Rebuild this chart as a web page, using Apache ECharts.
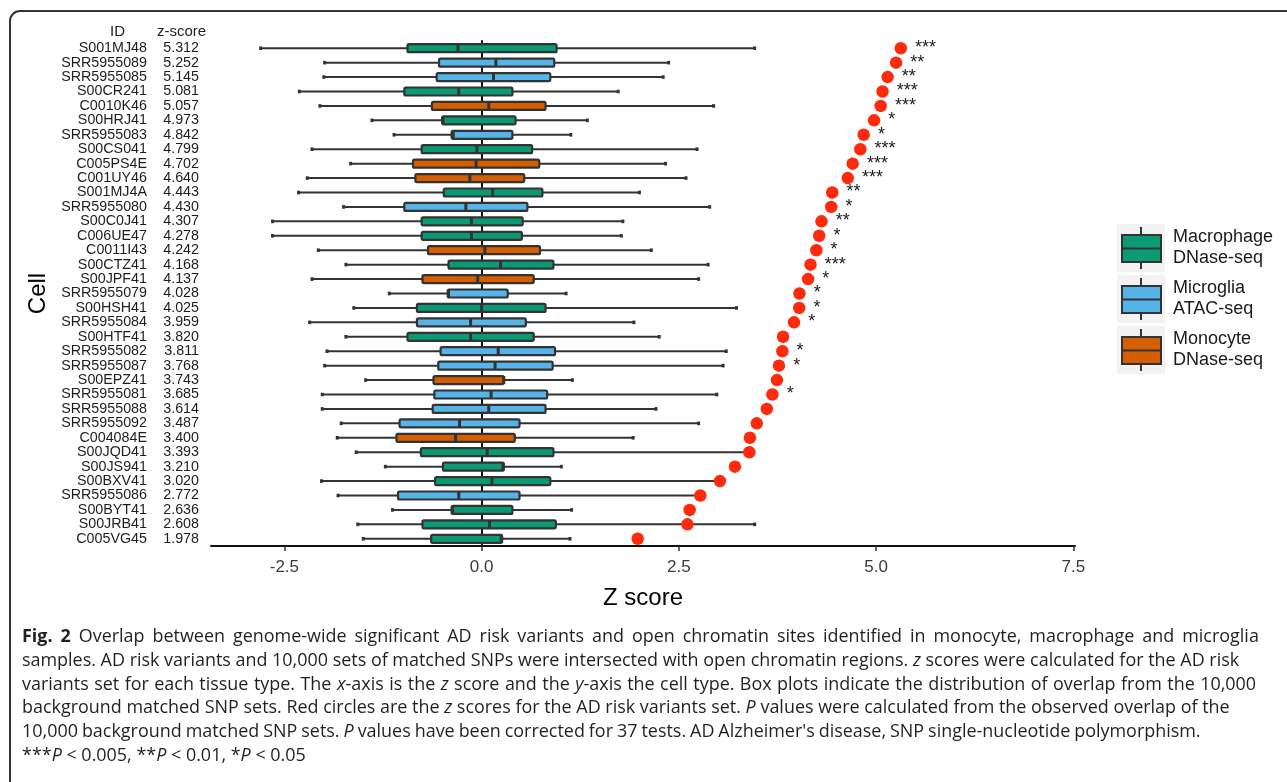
<!DOCTYPE html>
<html>
<head>
<meta charset="utf-8">
<script src="https://cdn.jsdelivr.net/npm/echarts@6/dist/echarts.min.js"></script>
<style>
  html, body { margin: 0; padding: 0; background: #ffffff; overflow: hidden; }
  #wrap { position: relative; width: 1287px; height: 782px; overflow: hidden; }
  #frame { position: absolute; left: 9px; top: 10px; width: 1400px; height: 900px;
           border: 2px solid #333333; border-radius: 11px; box-sizing: border-box; }
  #chart { position: absolute; left: 0; top: 0; width: 1287px; height: 782px; }
  #caption { position: absolute; left: 22px; top: 624px; font-family: "Open Sans", "Noto Sans", sans-serif;
             font-size: 17.95px; line-height: 23.8px; color: #231f20; white-space: nowrap; }
  #caption div { height: 23.8px; }
  #caption b { font-weight: 700; }
</style>
</head>
<body>
<div id="wrap">
  <div id="frame"></div>
  <div id="chart"></div>
  <div id="caption">
    <div style="word-spacing:3.3px"><b>Fig. 2</b> Overlap between genome-wide significant AD risk variants and open chromatin sites identified in monocyte, macrophage and microglia</div>
    <div>samples. AD risk variants and 10,000 sets of matched SNPs were intersected with open chromatin regions. <i>z</i> scores were calculated for the AD risk</div>
    <div style="word-spacing:0.8px">variants set for each tissue type. The <i>x</i>-axis is the <i>z</i> score and the <i>y</i>-axis the cell type. Box plots indicate the distribution of overlap from the 10,000</div>
    <div>background matched SNP sets. Red circles are the <i>z</i> scores for the AD risk variants set. <i>P</i> values were calculated from the observed overlap of the</div>
    <div style="word-spacing:-0.7px">10,000 background matched SNP sets. <i>P</i> values have been corrected for 37 tests. AD Alzheimer's disease, SNP single-nucleotide polymorphism.</div>
    <div>***<i>P</i> &lt; 0.005, **<i>P</i> &lt; 0.01, *<i>P</i> &lt; 0.05</div>
  </div>
</div>
<script>
const ids = ["S001MJ48","SRR5955089","SRR5955085","S00CR241","C0010K46","S00HRJ41","SRR5955083","S00CS041","C005PS4E","C001UY46","S001MJ4A","SRR5955080","S00C0J41","C006UE47","C0011I43","S00CTZ41","S00JPF41","SRR5955079","S00HSH41","SRR5955084","S00HTF41","SRR5955082","SRR5955087","S00EPZ41","SRR5955081","SRR5955088","SRR5955092","C004084E","S00JQD41","S00JS941","S00BXV41","SRR5955086","S00BYT41","S00JRB41","C005VG45"];
const zScores = [5.312,5.252,5.145,5.081,5.057,4.973,4.842,4.799,4.702,4.640,4.443,4.430,4.307,4.278,4.242,4.168,4.137,4.028,4.025,3.959,3.820,3.811,3.768,3.743,3.685,3.614,3.487,3.400,3.393,3.210,3.020,2.772,2.636,2.608,1.978];
const whiskerLow = [-2.80,-1.99,-2.00,-2.31,-2.05,-1.39,-1.11,-2.15,-1.66,-2.21,-2.32,-1.75,-2.65,-2.65,-2.07,-1.72,-2.15,-1.17,-1.62,-2.18,-1.72,-1.96,-1.99,-1.47,-2.02,-2.02,-1.78,-1.83,-1.59,-1.22,-2.03,-1.82,-1.13,-1.57,-1.50];
const boxLow = [-0.94,-0.54,-0.57,-0.98,-0.63,-0.50,-0.38,-0.76,-0.87,-0.84,-0.48,-0.98,-0.76,-0.76,-0.68,-0.42,-0.75,-0.43,-0.82,-0.82,-0.94,-0.52,-0.55,-0.61,-0.60,-0.62,-1.04,-1.08,-0.77,-0.49,-0.59,-1.06,-0.38,-0.75,-0.64];
const medians = [-0.30,0.18,0.15,-0.29,0.09,-0.49,-0.36,-0.06,-0.07,-0.15,0.14,-0.20,-0.13,-0.13,0.04,0.24,-0.05,-0.42,0.00,-0.14,-0.14,0.21,0.17,0.28,0.12,0.09,-0.28,-0.33,0.07,0.27,0.13,-0.29,-0.37,0.10,0.25];
const boxHigh = [0.95,0.92,0.87,0.39,0.81,0.43,0.39,0.64,0.73,0.54,0.77,0.58,0.52,0.51,0.74,0.91,0.66,0.33,0.81,0.56,0.66,0.93,0.90,0.28,0.83,0.81,0.48,0.42,0.91,0.28,0.87,0.48,0.39,0.94,0.26];
const whiskerHigh = [3.46,2.37,2.30,1.73,2.94,1.34,1.13,2.73,2.33,2.59,2.00,2.89,1.79,1.77,2.15,2.87,2.75,1.07,3.23,1.93,2.25,3.10,3.06,1.15,2.98,2.21,2.75,1.92,3.40,1.01,3.01,2.78,1.14,3.46,1.12];
const cellTypes = ["Mac","Mic","Mic","Mac","Mon","Mac","Mic","Mac","Mon","Mon","Mac","Mic","Mac","Mac","Mon","Mac","Mon","Mic","Mac","Mic","Mac","Mic","Mic","Mon","Mic","Mic","Mic","Mon","Mac","Mac","Mac","Mic","Mac","Mac","Mac"];
const stars = ["***","**","**","***","***","*","*","***","***","***","**","*","**","*","*","***","*","*","*","*","","*","*","","*","","","","","","","","","",""];
const typeKeys = ["Mac","Mic","Mon"];
const typeNames = ["Macrophage\nDNase-seq","Microglia\nATAC-seq","Monocyte\nDNase-seq"];
const typeColors = ["#0a9b74","#56b4e9","#d55e00"];
const xTicks = [-2.5, 0, 2.5, 5, 7.5];

const boxData = ids.map((id, i) => [i, whiskerLow[i], boxLow[i], medians[i], boxHigh[i], whiskerHigh[i], typeKeys.indexOf(cellTypes[i])]);
const dotData = ids.map((id, i) => [zScores[i], i]);

const chart = echarts.init(document.getElementById('chart'), null, { renderer: 'canvas' });
const LINE = '#333333';
const FONT = '"Liberation Sans", Arial, sans-serif';

const legendGraphics = [];
typeNames.forEach((name, i) => {
  const top = 224 + i * 51;
  legendGraphics.push({
    type: 'group', left: 1117, top: top,
    children: [
      { type: 'rect', shape: { x: 0, y: 0, width: 48, height: 48 }, style: { fill: '#f2f2f2' } },
      { type: 'line', shape: { x1: 24, y1: 3, x2: 24, y2: 45 }, style: { stroke: LINE, lineWidth: 2 } },
      { type: 'rect', shape: { x: 5, y: 11, width: 39, height: 27 }, style: { fill: typeColors[i], stroke: LINE, lineWidth: 2 } },
      { type: 'line', shape: { x1: 5, y1: 24.5, x2: 44, y2: 24.5 }, style: { stroke: LINE, lineWidth: 2.2 } },
      { type: 'text', x: 56, y: 24, style: { text: name, font: '18px ' + FONT, fill: '#1a1a1a', lineHeight: 21, verticalAlign: 'middle', textVerticalAlign: 'middle' } }
    ]
  });
});

const option = {
  backgroundColor: 'transparent',
  animation: false,
  textStyle: { fontFamily: FONT },
  grid: { left: 211, right: 212, top: 41, bottom: 236, containLabel: false },
  xAxis: {
    type: 'value', min: -3.43, max: 7.52,
    name: 'Z score', nameLocation: 'middle', nameGap: 40,
    nameTextStyle: { fontSize: 24, color: '#000', fontFamily: FONT },
    axisLine: { show: true, lineStyle: { color: '#111', width: 2 } },
    axisTick: { show: true, length: 5, lineStyle: { color: '#333', width: 1.5 }, customValues: xTicks },
    axisLabel: { fontSize: 17, color: '#3a3a3a', margin: 13, customValues: xTicks,
                 formatter: v => v.toFixed(1) },
    splitLine: { show: false }
  },
  yAxis: {
    type: 'category', data: ids, inverse: true,
    name: 'Cell', nameLocation: 'middle', nameGap: 160, nameRotate: 90,
    nameTextStyle: { fontSize: 24, color: '#000', fontFamily: FONT },
    axisLine: { show: true, lineStyle: { color: '#111', width: 2 } },
    axisTick: { show: true, length: 5, alignWithLabel: true, lineStyle: { color: '#333', width: 1.5 } },
    axisLabel: {
      margin: 12, interval: 0,
      formatter: (v, i) => '{id|' + v + '}{z|' + zScores[i].toFixed(3) + '}',
      rich: {
        id: { width: 110, align: 'right', fontSize: 14.3, color: '#1e1e1e', fontFamily: FONT },
        z: { width: 52, align: 'right', fontSize: 14.3, color: '#1e1e1e', fontFamily: FONT }
      }
    },
    splitLine: { show: false }
  },
  graphic: [
    { type: 'text', left: 110, top: 24, style: { text: 'ID', font: '15px ' + FONT, fill: '#222' } },
    { type: 'text', left: 157, top: 24, style: { text: 'z-score', font: '15px ' + FONT, fill: '#222' } }
  ].concat(legendGraphics),
  series: [
    {
      type: 'custom',
      data: boxData,
      encode: { x: [1, 2, 3, 4, 5], y: 0 },
      z: 2,
      renderItem: function (params, api) {
        const yi = api.value(0);
        const pLo = api.coord([api.value(1), yi]);
        const pQ1 = api.coord([api.value(2), yi]);
        const pMed = api.coord([api.value(3), yi]);
        const pQ3 = api.coord([api.value(4), yi]);
        const pHi = api.coord([api.value(5), yi]);
        const col = typeColors[api.value(6)];
        const cy = pQ1[1];
        const h = 8;
        return {
          type: 'group',
          children: [
            { type: 'line', shape: { x1: pLo[0], y1: cy, x2: pQ1[0], y2: cy }, style: { stroke: LINE, lineWidth: 2 } },
            { type: 'line', shape: { x1: pQ3[0], y1: cy, x2: pHi[0], y2: cy }, style: { stroke: LINE, lineWidth: 2 } },
            { type: 'rect', shape: { x: pLo[0] - 1.5, y: cy - 1.8, width: 3, height: 3.6 }, style: { fill: LINE } },
            { type: 'rect', shape: { x: pHi[0] - 1.5, y: cy - 1.8, width: 3, height: 3.6 }, style: { fill: LINE } },
            { type: 'rect', shape: { x: pQ1[0], y: cy - h / 2, width: pQ3[0] - pQ1[0], height: h, r: 1.5 },
              style: { fill: col, stroke: LINE, lineWidth: 2.2 } },
            { type: 'line', shape: { x1: pMed[0], y1: cy - h / 2, x2: pMed[0], y2: cy + h / 2 }, style: { stroke: LINE, lineWidth: 3 } }
          ]
        };
      }
    },
    {
      type: 'scatter',
      data: dotData,
      symbol: 'circle', symbolSize: 12.5,
      itemStyle: { color: '#ff2a0c', opacity: 1 },
      z: 3,
      label: {
        show: true, position: 'right', distance: 8,
        formatter: p => stars[p.dataIndex],
        fontSize: 18, color: '#222', fontFamily: FONT
      }
    }
  ]
};
chart.setOption(option);
</script>
</body>
</html>
